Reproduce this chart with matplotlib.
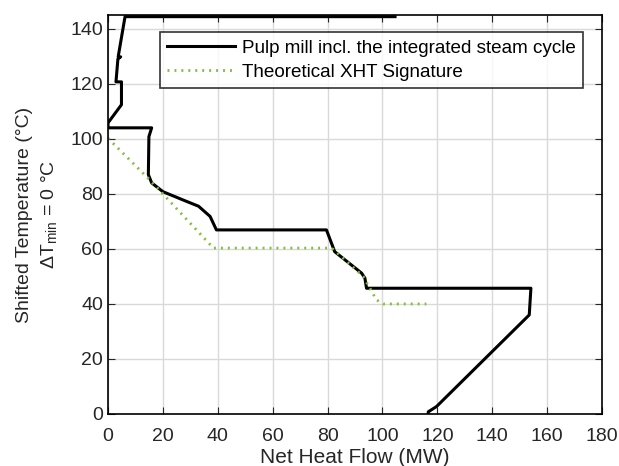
import matplotlib.pyplot as plt

plt.rcParams['font.family'] = ['Liberation Sans', 'DejaVu Sans']
plt.rcParams['mathtext.fontset'] = 'custom'
plt.rcParams['mathtext.rm'] = 'Liberation Sans'
plt.rcParams['mathtext.it'] = 'Liberation Sans'

# Pulp mill curve incl. the integrated steam cycle (heat flow MW, temperature C)
mill_q = [104.6, 6.2, 3.7, 4.6, 3.6, 2.9, 4.9, 4.9, 0.0, 0.0, 15.9, 14.9, 14.7, 15.9,
          20.0, 27.3, 33.0, 37.2, 39.5, 79.6, 82.6, 92.4, 93.6, 94.2, 154.1, 153.5,
          119.7, 116.7, 116.7]
mill_t = [144.4, 144.4, 129.8, 129.8, 129.0, 120.7, 120.7, 112.4, 105.8, 104.0, 104.0,
          100.8, 87.0, 84.0, 80.8, 77.8, 75.5, 71.8, 66.9, 66.9, 59.0, 51.2, 49.4,
          45.7, 45.7, 36.0, 2.7, 0.8, 0.0]

# Theoretical XHT signature
xht_q = [0.0, 15.3, 38.4, 80.8, 82.0, 93.0, 97.8, 100.3, 116.0]
xht_t = [100.2, 85.0, 60.3, 60.3, 59.9, 50.0, 41.5, 40.0, 40.0]

fig = plt.figure(figsize=(6.19, 4.66), dpi=100)
ax = fig.add_axes([0.1745, 0.1116, 0.798, 0.8562])

ax.plot(mill_q, mill_t, color='black', lw=2.2,
        label='Pulp mill incl. the integrated steam cycle')
ax.plot(xht_q, xht_t, color='#80bf3a', lw=2.0, linestyle=(0, (0.7, 1.8)),
        label='Theoretical XHT Signature')

ax.set_xlim(0, 180)
ax.set_ylim(0, 145)
ax.set_xticks(range(0, 181, 20))
ax.set_yticks(range(0, 141, 20))
ax.grid(True, color='#d9d9d9', lw=1)
ax.set_axisbelow(True)
ax.tick_params(direction='in', top=True, right=True, labelsize=14, length=5,
               colors='#262626', labelcolor='#262626')
ax.tick_params(axis='x', pad=10)
for s in ax.spines.values():
    s.set_linewidth(1.2)

ax.set_xlabel('Net Heat Flow (MW)', fontsize=15, color='#262626', labelpad=2)
ax.set_ylabel('Shifted Temperature (°C)\n' + r'$\Delta\mathrm{T}_{\mathrm{min}}$' + ' = 0 °C',
              fontsize=14, color='#262626', labelpad=8, linespacing=1.4)

leg = ax.legend(loc='upper right', bbox_to_anchor=(0.962, 0.957), borderaxespad=0,
                fontsize=13.6, frameon=True, fancybox=False, edgecolor='black',
                handlelength=3.6, handletextpad=0.35, borderpad=0.4, labelspacing=0.35)
leg.get_frame().set_linewidth(1.2)

fig.savefig('out.png', dpi=100)
